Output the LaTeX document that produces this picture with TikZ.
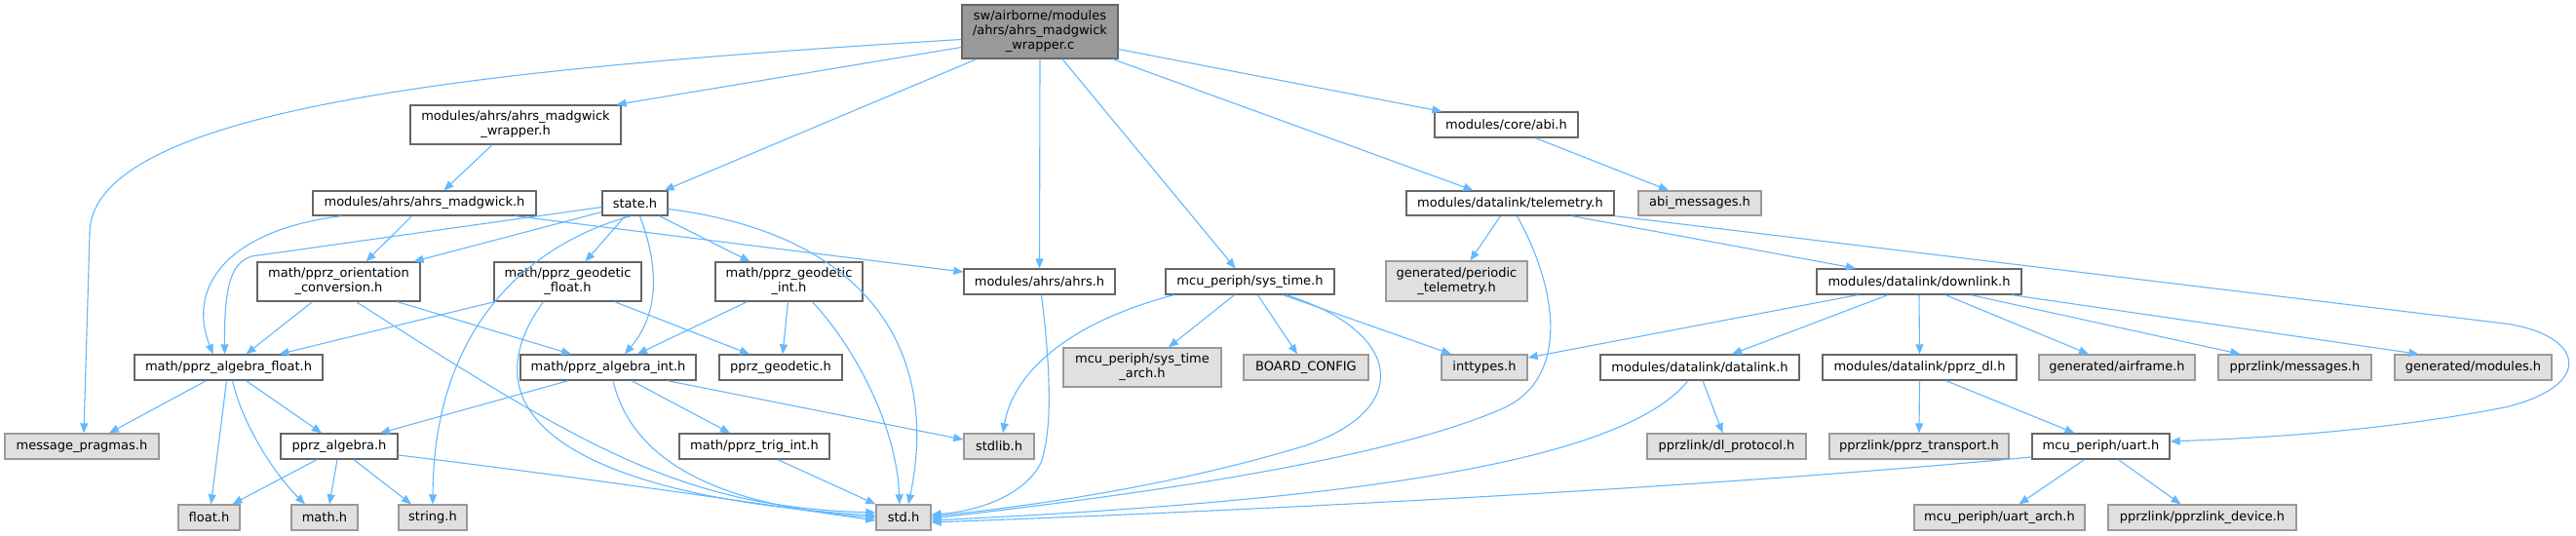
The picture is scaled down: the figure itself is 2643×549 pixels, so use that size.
\documentclass[tikz,border=0pt]{standalone}
\usepackage{fontspec}
\setmainfont{DejaVu Sans}
\usetikzlibrary{arrows.meta}
\definecolor{edgec}{HTML}{63B8FF}
\definecolor{docb}{HTML}{666666}
\definecolor{extf}{HTML}{E0E0E0}
\definecolor{extb}{HTML}{999999}
\definecolor{mainf}{HTML}{999999}
\tikzset{
  box/.style={draw, line width=1.3pt, inner sep=0pt, align=center,
    font=\fontsize{13}{15}\selectfont, text=black},
  doc/.style={box, draw=docb, fill=white},
  ext/.style={box, draw=extb, fill=extf},
  mainbox/.style={box, draw=docb, fill=mainf},
  edge/.style={draw=edgec, line width=1.1pt, -{Triangle[length=10pt,width=8pt]}},
}
\begin{document}
\begin{tikzpicture}[x=1pt,y=-1pt]
\path[use as bounding box, fill=white] (0,0) rectangle (2643,549);
% nodes
\node[mainbox, minimum width=160pt, minimum height=55pt] (main) at (1067,32.5) {sw/airborne/modules\\/ahrs/ahrs\_madgwick\\\_wrapper.c};
\node[doc, minimum width=216pt, minimum height=40pt] (wrapH) at (529,128) {modules/ahrs/ahrs\_madgwick\\\_wrapper.h};
\node[doc, minimum width=229pt, minimum height=25pt] (madg) at (435.5,208.5) {modules/ahrs/ahrs\_madgwick.h};
\node[doc, minimum width=67pt, minimum height=25pt] (state) at (651.5,208.5) {state.h};
\node[doc, minimum width=167pt, minimum height=40pt] (orient) at (347.5,289) {math/pprz\_orientation\\\_conversion.h};
\node[doc, minimum width=151pt, minimum height=40pt] (geof) at (582.5,289) {math/pprz\_geodetic\\\_float.h};
\node[doc, minimum width=151pt, minimum height=40pt] (geoi) at (809.5,289) {math/pprz\_geodetic\\\_int.h};
\node[doc, minimum width=193pt, minimum height=26pt] (algf) at (234.5,377) {math/pprz\_algebra\_float.h};
\node[doc, minimum width=180pt, minimum height=26pt] (algi) at (624,377) {math/pprz\_algebra\_int.h};
\node[doc, minimum width=126pt, minimum height=26pt] (geod) at (801,377) {pprz\_geodetic.h};
\node[ext, minimum width=158pt, minimum height=26pt] (msgp) at (84,458) {message\_pragmas.h};
\node[doc, minimum width=120pt, minimum height=26pt] (alg) at (348,458) {pprz\_algebra.h};
\node[doc, minimum width=154pt, minimum height=26pt] (trig) at (774,458) {math/pprz\_trig\_int.h};
\node[ext, minimum width=63pt, minimum height=26pt] (float) at (214.5,531) {float.h};
\node[ext, minimum width=68pt, minimum height=26pt] (math) at (333,531) {math.h};
\node[ext, minimum width=70pt, minimum height=26pt] (string) at (444,531) {string.h};
\node[doc, minimum width=147pt, minimum height=26pt] (abi) at (1545.5,128) {modules/core/abi.h};
\node[doc, minimum width=213pt, minimum height=25pt] (telem) at (1549.5,208.5) {modules/datalink/telemetry.h};
\node[ext, minimum width=126pt, minimum height=25pt] (abim) at (1744,208.5) {abi\_messages.h};
\node[doc, minimum width=155pt, minimum height=26pt] (ahrs) at (1066.5,289) {modules/ahrs/ahrs.h};
\node[doc, minimum width=173pt, minimum height=26pt] (systime) at (1282.5,289) {mcu\_periph/sys\_time.h};
\node[ext, minimum width=145pt, minimum height=41pt] (periodic) at (1494.5,288.5) {generated/periodic\\\_telemetry.h};
\node[doc, minimum width=210pt, minimum height=26pt] (downlink) at (1969,289) {modules/datalink/downlink.h};
\node[ext, minimum width=162pt, minimum height=40pt] (sysarch) at (1172,377) {mcu\_periph/sys\_time\\\_arch.h};
\node[ext, minimum width=128pt, minimum height=26pt] (board) at (1340,377) {BOARD\_CONFIG};
\node[ext, minimum width=88pt, minimum height=26pt] (inttypes) at (1523,377) {inttypes.h};
\node[doc, minimum width=204pt, minimum height=26pt] (datalink) at (1744,377) {modules/datalink/datalink.h};
\node[doc, minimum width=199pt, minimum height=26pt] (ppzdl) at (1969.5,377) {modules/datalink/pprz\_dl.h};
\node[ext, minimum width=160pt, minimum height=26pt] (airframe) at (2172,377) {generated/airframe.h};
\node[ext, minimum width=157pt, minimum height=26pt] (messages) at (2354.5,377) {pprzlink/messages.h};
\node[ext, minimum width=161pt, minimum height=26pt] (modules) at (2537.5,377) {generated/modules.h};
\node[ext, minimum width=72pt, minimum height=26pt] (stdlib) at (1025,458) {stdlib.h};
\node[ext, minimum width=163pt, minimum height=26pt] (dlproto) at (1771.5,458) {pprzlink/dl\_protocol.h};
\node[ext, minimum width=184pt, minimum height=26pt] (transport) at (1969,458) {pprzlink/pprz\_transport.h};
\node[doc, minimum width=141pt, minimum height=26pt] (uart) at (2155.5,458) {mcu\_periph/uart.h};
\node[ext, minimum width=56pt, minimum height=26pt] (std) at (927,531) {std.h};
\node[ext, minimum width=175pt, minimum height=26pt] (uartarch) at (2051.5,531) {mcu\_periph/uart\_arch.h};
\node[ext, minimum width=193pt, minimum height=26pt] (device) at (2259.5,531) {pprzlink/pprzlink\_device.h};
% edges from main
\draw[edge] ([yshift=-8pt]main.west) .. controls (500,70) and (92,110) .. (92,240) -- ([xshift=2pt]msgp.north);
\draw[edge] ([yshift=-16pt]main.west) -- ([xshift=-5pt]wrapH.north east);
\draw[edge] ([xshift=-65pt]main.south) -- ([xshift=-4pt]state.north east);
\draw[edge] (main.south) -- (ahrs.north);
\draw[edge] ([xshift=23pt]main.south) -- ([xshift=-15pt]systime.north);
\draw[edge] ([xshift=-6pt]main.south east) -- ([xshift=-38pt]telem.north);
\draw[edge] ([yshift=-18pt]main.east) -- ([xshift=8pt]abi.north west);
% wrapper.h / madgwick
\draw[edge] ([xshift=-24pt]wrapH.south) -- ([xshift=20pt]madg.north);
\draw[edge] ([xshift=-85pt]madg.south) .. controls (240,235) and (190,290) .. ([xshift=-16pt]algf.north);
\draw[edge] ([xshift=-13pt]madg.south) -- ([xshift=28pt]orient.north);
\draw[edge] ([xshift=93pt]madg.south) -- ([yshift=10pt]ahrs.west);
% state.h
\draw[edge] ([yshift=-4pt]state.west) -- (258,263) .. controls (238,270) and (230,290) .. ([xshift=-4pt]algf.north);
\draw[edge] ([yshift=-9pt]state.west) -- ([xshift=77pt]orient.north);
\draw[edge] ([xshift=-10pt]state.south) -- ([xshift=18pt]geof.north);
\draw[edge] ([xshift=-4pt]state.south) .. controls (560,245) and (445,320) .. (string.north);
\draw[edge] ([xshift=5pt]state.south) .. controls (675,270) and (678,320) .. ([xshift=17pt]algi.north);
\draw[edge] ([xshift=25pt]state.south) -- ([xshift=-40pt]geoi.north);
\draw[edge] ([yshift=-6pt]state.east) .. controls (890,240) and (965,360) .. ([xshift=5pt]std.north);
% orientation conversion
\draw[edge] ([xshift=-27pt]orient.south) -- ([xshift=18pt]algf.north);
\draw[edge] ([xshift=60pt]orient.south) -- ([xshift=-38pt]algi.north);
\draw[edge] ([xshift=18pt]orient.south) .. controls (600,460) and (700,520) .. ([yshift=5pt]std.west);
% geodetic float
\draw[edge] ([xshift=-75pt]geof.south) -- ([xshift=52pt]algf.north);
\draw[edge] ([xshift=-25pt]geof.south) .. controls (470,430) and (600,510) .. ([yshift=2pt]std.west);
\draw[edge] ([xshift=48pt]geof.south) -- ([xshift=-32pt]geod.north);
% geodetic int
\draw[edge] ([xshift=-43pt]geoi.south) -- ([xshift=30pt]algi.north);
\draw[edge] ([xshift=-1pt]geoi.south) -- ([xshift=2pt]geod.north);
\draw[edge] ([xshift=24pt]geoi.south) .. controls (880,360) and (920,440) .. ([xshift=-4pt]std.north);
% algebra float
\draw[edge] ([xshift=-23pt]algf.south) -- ([xshift=28pt]msgp.north);
\draw[edge] ([xshift=-2pt]algf.south) -- ([xshift=2pt]float.north);
\draw[edge] ([xshift=4pt]algf.south) .. controls (250,440) and (285,490) .. ([xshift=-20pt]math.north);
\draw[edge] ([xshift=18pt]algf.south) -- ([xshift=-18pt]alg.north);
% algebra int
\draw[edge] ([xshift=-41pt]algi.south) -- ([xshift=42pt]alg.north);
\draw[edge] ([xshift=5pt]algi.south) .. controls (650,480) and (750,520) .. ([yshift=0pt]std.west);
\draw[edge] ([xshift=24pt]algi.south) -- ([xshift=-25pt]trig.north);
\draw[edge] ([xshift=-30pt]algi.south east) -- ([yshift=7pt]stdlib.west);
% pprz_algebra
\draw[edge] ([xshift=-23pt]alg.south) -- ([xshift=24pt]float.north);
\draw[edge] ([xshift=-2pt]alg.south) -- ([xshift=5pt]math.north);
\draw[edge] ([xshift=15pt]alg.south) -- ([xshift=-22pt]string.north);
\draw[edge] ([yshift=-9pt]alg.east) .. controls (600,490) and (800,520) .. ([yshift=-3pt]std.west);
% trig
\draw[edge] ([xshift=24pt]trig.south) -- (std.north west);
% ahrs.h
\draw[edge] ([xshift=2pt]ahrs.south) .. controls (1078,380) and (1080,440) .. (1068,475) .. controls (1050,510) and (1000,525) .. ([yshift=3pt]std.east);
% sys_time.h
\draw[edge] ([xshift=-78pt]systime.south) .. controls (1100,330) and (1040,380) .. ([xshift=4pt]stdlib.north);
\draw[edge] ([xshift=-16pt]systime.south) -- ([xshift=27pt]sysarch.north);
\draw[edge] ([xshift=8pt]systime.south) -- ([xshift=-9pt]board.north);
\draw[edge] ([xshift=34pt]systime.south) -- ([xshift=-34pt]inttypes.north);
\draw[edge] ([xshift=37pt]systime.south) .. controls (1440,340) and (1450,420) .. (1340,457) .. controls (1200,500) and (1050,520) .. ([yshift=1pt]std.east);
% telemetry
\draw[edge] ([xshift=-10pt]telem.south) -- ([xshift=14pt]periodic.north);
\draw[edge] ([xshift=7pt]telem.south) .. controls (1600,300) and (1610,390) .. (1540,420) .. controls (1400,480) and (1100,515) .. ([yshift=-1pt]std.east);
\draw[edge] ([xshift=-44pt]telem.south east) -- ([xshift=-65pt]downlink.north);
\draw[edge] (telem.south east) -- (2570,332) .. controls (2650,343) and (2665,395) .. (2570,418) .. controls (2430,445) and (2300,450) .. ([yshift=5pt]uart.east);
% abi
\draw[edge] ([xshift=30pt]abi.south) -- ([xshift=-32pt]abim.north);
% downlink
\draw[edge] ([xshift=-63pt]downlink.south) -- ([yshift=10pt]inttypes.east);
\draw[edge] ([xshift=-32pt]downlink.south) -- ([xshift=33pt]datalink.north);
\draw[edge] (downlink.south) -- (ppzdl.north);
\draw[edge] ([xshift=27pt]downlink.south) -- ([xshift=-29pt]airframe.north);
\draw[edge] ([xshift=53pt]downlink.south) -- ([xshift=-56pt]messages.north);
\draw[edge] ([xshift=95pt]downlink.south) -- ([xshift=-56pt]modules.north);
% datalink
\draw[edge] ([xshift=3pt]datalink.south) -- ([xshift=-4pt]dlproto.north);
\draw[edge] ([xshift=-12pt]datalink.south) .. controls (1660,480) and (1350,515) .. ([yshift=-3pt]std.east);
% pprz_dl
\draw[edge] (ppzdl.south) -- (transport.north);
\draw[edge] ([xshift=27pt]ppzdl.south) -- ([xshift=-27pt]uart.north);
% uart
\draw[edge] ([yshift=-11pt]uart.west) .. controls (1700,505) and (1200,527) .. ([yshift=-5pt]std.east);
\draw[edge] ([xshift=-17pt]uart.south) -- ([xshift=20pt]uartarch.north);
\draw[edge] ([xshift=18pt]uart.south) -- ([xshift=-22pt]device.north);
\end{tikzpicture}
\end{document}
